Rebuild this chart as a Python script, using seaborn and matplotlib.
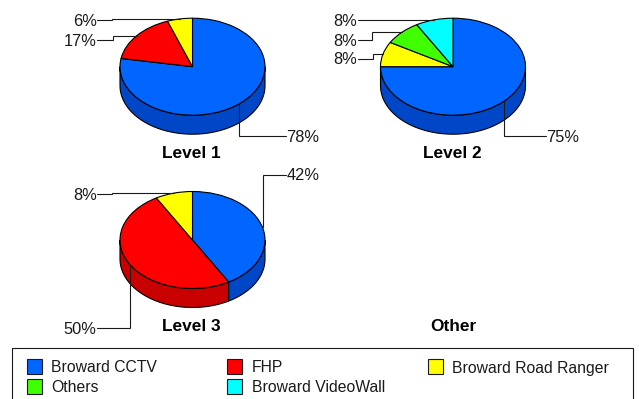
import numpy as np
import matplotlib
matplotlib.use("Agg")
import matplotlib.pyplot as plt
from matplotlib.patches import Rectangle
import seaborn as sns

categories = ["Broward CCTV", "FHP", "Broward Road Ranger", "Others", "Broward VideoWall"]
level1_cats = ["Broward CCTV", "FHP", "Broward Road Ranger"]
level1_vals = [77.8, 16.7, 5.6]
level1_text = ["78%", "17%", "6%"]
level2_cats = ["Broward CCTV", "Broward Road Ranger", "Others", "Broward VideoWall"]
level2_vals = [75.0, 8.33, 8.33, 8.33]
level2_text = ["75%", "8%", "8%", "8%"]
level3_cats = ["Broward CCTV", "FHP", "Broward Road Ranger"]
level3_vals = [41.7, 50.0, 8.3]
level3_text = ["42%", "50%", "8%"]
titles = ["Level 1", "Level 2", "Level 3", "Other"]

sns.set_theme(style="white")
plt.rcParams["font.family"] = ["Liberation Sans", "DejaVu Sans"]

W, H = 639, 399
top = dict(zip(categories, sns.color_palette(["#0066FF", "#FF0000", "#FFFF00", "#40FF00", "#00FFFF"])))
side = dict(zip(categories, sns.color_palette(["#0047C8", "#C80000", "#C8C800", "#30C800", "#00C8C8"])))

RX, RY, DEPTH = 72.5, 48.5, 19.0
INK = "#1a1a1a"
LW = 0.8
LABEL_SIZE = 11.8

fig = plt.figure(figsize=(W / 100, H / 100), dpi=100, facecolor="white")
over = fig.add_axes([0, 0, 1, 1], zorder=5)
over.set_xlim(0, W)
over.set_ylim(H, 0)
over.axis("off")


def draw_pie(cx, cy, cats, vals):
    d = DEPTH / RY
    ax = fig.add_axes([(cx - RX) / W, 1 - (cy + RY + DEPTH) / H, 2 * RX / W, (2 * RY + DEPTH) / H])
    cum = np.cumsum([0] + list(vals)) / sum(vals)
    # side wall: only the part of each slice facing the viewer
    for c, a, b in zip(cats, cum[:-1], cum[1:]):
        lo, hi = max(a, 0.25), min(b, 0.75)
        if hi <= lo:
            continue
        th = np.linspace(lo, hi, 60) * 2 * np.pi
        x, y = np.sin(th), np.cos(th)
        ax.fill(np.r_[x, x[::-1]], np.r_[y, y[::-1] - d], facecolor=side[c],
                edgecolor="black", linewidth=LW, clip_on=False)
    ax.pie(vals, colors=[top[c] for c in cats], startangle=90, counterclock=False, radius=1,
           wedgeprops=dict(edgecolor="black", linewidth=LW, clip_on=False))
    ax.set_aspect("auto")
    ax.set_xlim(-1, 1)
    ax.set_ylim(-1 - d, 1)
    ax.axis("off")
    mids = (cum[:-1] + cum[1:]) / 2 * 2 * np.pi
    return [(cx + RX * np.sin(m), cy - RY * np.cos(m)) for m in mids]


def leader_left(anchor, text, lx, ly, elbow):
    ax_, ay = anchor
    over.plot([lx, elbow, elbow, ax_], [ly, ly, ay, ay], color=INK, lw=LW, solid_joinstyle="miter")
    over.text(lx - 0.5, ly, text, ha="right", va="center_baseline", fontsize=LABEL_SIZE, color=INK)


def leader_vert(anchor, text, lx, ly, side_="right"):
    ax_, ay = anchor
    over.plot([ax_, ax_, lx], [ay, ly, ly], color=INK, lw=LW, solid_joinstyle="miter")
    if side_ == "right":
        over.text(lx + 0.5, ly, text, ha="left", va="center_baseline", fontsize=LABEL_SIZE, color=INK)
    else:
        over.text(lx - 0.5, ly, text, ha="right", va="center_baseline", fontsize=LABEL_SIZE, color=INK)


a1 = draw_pie(192.5, 66.7, level1_cats, level1_vals)
leader_vert(a1[0], level1_text[0], 286, 136)
leader_left(a1[1], level1_text[1], 97, 39.5, 113)
leader_left(a1[2], level1_text[2], 97, 20, 112)

a2 = draw_pie(453, 66.7, level2_cats, level2_vals)
leader_vert(a2[0], level2_text[0], 546, 136)
leader_left(a2[1], level2_text[1], 358, 58.5, 373)
leader_left(a2[2], level2_text[2], 358, 39.5, 372)
leader_left(a2[3], level2_text[3], 358, 20, 371)

a3 = draw_pie(192.5, 240, level3_cats, level3_vals)
leader_vert(a3[0], level3_text[0], 286, 174.5)
leader_vert(a3[1], level3_text[1], 97, 328, "left")
leader_left(a3[2], level3_text[2], 97, 194, 112)

for name, x, y in zip(titles, [191.5, 452.5, 191.5, 453], [152, 152, 325, 325]):
    over.text(x, y, name, ha="center", va="center_baseline", fontsize=12.4, fontweight="bold", color="black")

# legend frame runs past the bottom of the canvas
over.add_patch(Rectangle((12, 347.5), 620.5, 70, facecolor="none", edgecolor=INK, lw=LW))
leg_x = [26.5, 227, 428, 26.5, 227]
leg_y = [366.5, 366.5, 366.5, 386, 386]
for c, x, y in zip(["Broward CCTV", "FHP", "Broward Road Ranger", "Others", "Broward VideoWall"], leg_x, leg_y):
    over.add_patch(Rectangle((x, y - 7.5), 15, 15, facecolor=top[c], edgecolor=INK, lw=LW))
    over.text(x + 24.5, y, c, ha="left", va="center_baseline", fontsize=11.3, color=INK)

fig.savefig("out.png", dpi=100)
